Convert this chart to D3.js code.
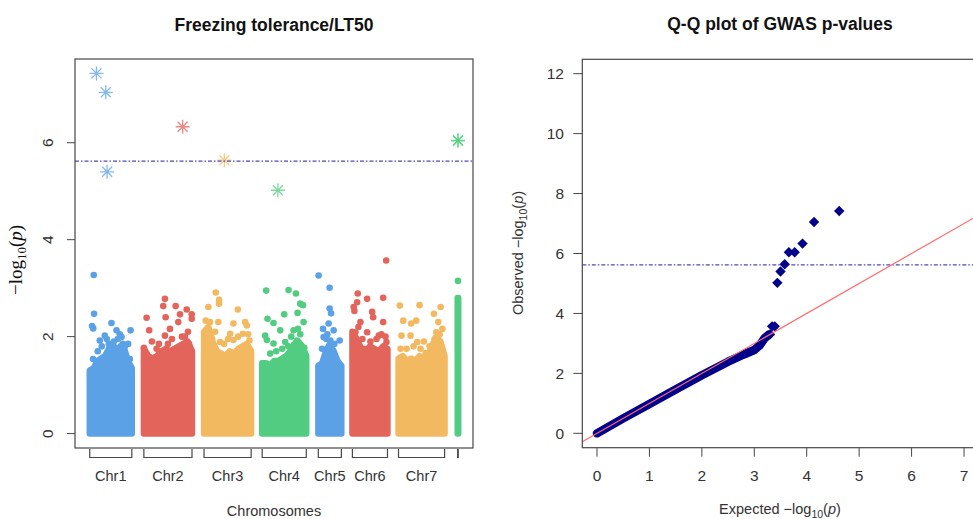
<!DOCTYPE html>
<html>
<head>
<meta charset="utf-8">
<script src="https://cdn.jsdelivr.net/npm/d3@7"></script>
<style>
  body { margin: 0; background: #fff; }
  svg { display: block; font-family: "Liberation Sans", Arial, sans-serif; }
</style>
</head>
<body>
<script>
'use strict'

// chromosome layout (positions in Mb-like units on the cumulative axis)
const chrNames = ['Chr1', 'Chr2', 'Chr3', 'Chr4', 'Chr5', 'Chr6', 'Chr7', '']
const chrStarts = [0, 54, 114, 172, 228, 262, 308, 367]
const chrLengths = [42, 48, 47, 44, 23, 35, 46, 0.6]
const chrColors = ['#5ba1e6', '#e2645a', '#f3b960', '#52cc80', '#5ba1e6', '#e2645a', '#f3b960', '#52cc80']

// top of the dense cloud of SNPs, sampled evenly along each chromosome
const bulkTops = [
  [1.3, 1.35, 1.5, 1.55, 1.6, 1.75, 1.85, 1.7, 1.8, 1.75, 1.5, 1.35],
  [1.75, 1.6, 1.55, 1.6, 1.7, 1.75, 1.7, 1.75, 1.8, 1.85, 1.9, 1.7],
  [2.1, 2.2, 1.9, 1.7, 1.65, 1.6, 1.7, 1.65, 1.75, 1.8, 1.85, 1.7],
  [1.45, 1.45, 1.4, 1.5, 1.5, 1.55, 1.6, 1.7, 1.85, 1.9, 1.8, 1.6],
  [1.4, 1.45, 1.7, 1.85, 1.7, 1.5, 1.4],
  [2.1, 1.95, 1.75, 1.7, 1.8, 1.75, 1.7, 1.8, 1.75],
  [1.55, 1.6, 1.5, 1.55, 1.5, 1.6, 1.55, 1.6, 1.8, 2.0, 1.9, 1.6],
  [2.8, 2.8]
]

// scattered SNPs above the cloud: [position within chromosome, -log10 p]
const scatterPoints = [
  [[4, 3.27], [4.3, 2.47], [2.3, 2.22], [3.5, 2.17], [21.7, 2.28], [40.7, 2.13], [26.7, 2.13], [15, 2.02],
    [31.7, 1.99], [10, 1.92], [38.3, 1.85], [21.7, 1.75], [3.3, 1.54], [40, 1.54],
    [12, 1.8], [17, 1.95], [19, 1.85], [24, 1.9], [28, 1.95], [33, 1.85], [35, 1.8], [8, 1.7], [30, 2.05]],
  [[21, 2.78], [19.3, 2.63], [31.7, 2.63], [21.7, 2.4], [36, 2.46], [42.7, 2.56], [47.7, 2.46], [47.7, 2.37],
    [2.7, 2.39], [26, 2.16], [5.3, 2.13], [21, 2.02], [34.3, 2.3], [41, 2.0], [0, 1.77], [12.7, 1.75], [45, 1.85],
    [8, 1.9], [15, 1.85], [28, 1.95], [38, 2.0], [44, 2.1], [24, 1.85]],
  [[11.7, 2.91], [15, 2.76], [15, 2.68], [4.3, 2.61], [33.7, 2.56], [1.7, 2.33], [6, 2.3], [14.3, 2.3],
    [29.3, 2.27], [41, 2.3], [42.7, 2.23], [2.7, 2.06], [26, 2.06], [38.7, 2.06], [16, 1.89], [45.3, 1.92], [29.3, 1.93],
    [8, 1.95], [20, 1.85], [24, 1.95], [34, 2.0], [44, 2.05], [11, 2.1]],
  [[4, 2.95], [26.3, 2.96], [33.7, 2.89], [38, 2.68], [40.7, 2.65], [35.3, 2.49], [22, 2.46], [5.3, 2.37],
    [11.3, 2.28], [41.3, 2.3], [31.3, 2.13], [35.7, 2.16], [18, 2.13], [3, 2.02], [4.7, 1.93], [23, 1.89],
    [34.7, 1.92], [42, 1.77], [11.3, 1.86], [14, 1.7], [20, 1.75], [26, 1.8], [29, 2.0], [38, 2.05], [8, 1.65]],
  [[0.3, 3.26], [11.3, 3.01], [11.3, 2.58], [12.7, 2.48], [10.3, 2.27], [4.7, 2.16], [15.3, 2.13], [21.3, 1.92],
    [5.3, 1.99], [12, 1.92], [3.7, 1.75], [13.7, 1.69], [8, 1.95], [16, 1.85], [9, 2.05]],
  [[33.7, 3.57], [5.3, 2.89], [14.7, 2.78], [30.7, 2.8], [4.7, 2.71], [1.3, 2.61], [19.7, 2.51], [20.7, 2.4],
    [2, 2.53], [8, 2.3], [30.7, 2.3], [3, 2.09], [14.7, 2.09], [26.3, 2.02], [34, 1.89], [11.3, 1.75], [23, 1.69],
    [10, 1.95], [18, 1.9], [24, 1.95], [29, 2.05], [33, 2.0], [6, 2.2]],
  [[1.3, 2.64], [21, 2.65], [42, 2.61], [4.7, 2.33], [17.7, 2.33], [12.7, 2.27], [35.3, 2.47], [39.7, 2.3],
    [37.7, 2.09], [3, 2.02], [12, 2.02], [18.7, 1.89], [25.3, 1.9], [2, 1.75], [27, 1.66], [43.7, 2.16],
    [8, 1.75], [15, 1.8], [22, 1.75], [31, 1.8], [36, 1.95], [41, 2.05]],
  [[0.3, 3.15]]
]

// significant SNPs (asterisks): [chromosome index, position, -log10 p]
const sigPoints = [[0, 6.7, 7.43], [0, 16, 7.04], [0, 17.3, 5.4], [1, 38.7, 6.33], [2, 20.3, 5.64],
  [3, 15.7, 5.02], [7, 0.3, 6.04], [7, 0.3, 6.05]]

const threshold = 5.62
const manhattanTicks = [0, 2, 4, 6]

// Q-Q plot: dense band of the bulk of p-values, then the individual tail
const qqBandExpected = [0, 0.5, 1.0, 1.5, 2.0, 2.5, 2.8, 3.0, 3.1, 3.2, 3.28]
const qqBandObserved = [0, 0.5, 0.98, 1.46, 1.94, 2.39, 2.63, 2.78, 2.93, 3.18, 3.3]
const qqTailExpected = [4.62, 4.14, 3.92, 3.77, 3.66, 3.58, 3.5, 3.44, 3.39, 3.34, 3.3, 3.26]
const qqTailObserved = [7.42, 7.05, 6.33, 6.04, 6.04, 5.64, 5.4, 5.02, 3.57, 3.57, 3.3, 3.26]
const qqXTicks = [0, 1, 2, 3, 4, 5, 6, 7]
const qqYTicks = [0, 2, 4, 6, 8, 10, 12]

const width = 973
const height = 519
const axisColor = '#474747'
const labelColor = '#333'

const svg = d3.select('body').append('svg')
  .attr('width', width)
  .attr('height', height)

// ---------- Manhattan plot ----------
const mBox = { left: 75, right: 473, top: 59, bottom: 448 }
const xEnd = chrStarts[7] + chrLengths[7]
const xm = d3.scaleLinear()
  .domain([-0.04 * xEnd, xEnd * 1.04])
  .range([mBox.left, mBox.right])
const ym = d3.scaleLinear()
  .domain([-0.04 * 7.43, 7.43 * 1.04])
  .range([mBox.bottom, mBox.top])

const mPlot = svg.append('g')

chrNames.forEach(function (name, i) {
  const start = chrStarts[i]
  const len = chrLengths[i]
  const tops = bulkTops[i]
  const area = d3.area()
    .x(function (d, k) { return xm(start + len * k / (tops.length - 1)) })
    .y0(ym(0))
    .y1(function (d) { return ym(d) })

  mPlot.append('path')
    .attr('d', area(tops))
    .attr('fill', chrColors[i])
    .attr('stroke', chrColors[i])
    .attr('stroke-width', 6.4)
    .attr('stroke-linejoin', 'round')

  mPlot.append('g').selectAll('circle')
    .data(scatterPoints[i])
    .enter()
    .append('circle')
    .attr('cx', function (d) { return xm(start + d[0]) })
    .attr('cy', function (d) { return ym(d[1]) })
    .attr('r', 3.3)
    .attr('fill', chrColors[i])
})

mPlot.append('g').selectAll('path')
  .data(sigPoints)
  .enter()
  .append('path')
  .attr('transform', function (d) {
    return 'translate(' + xm(chrStarts[d[0]] + d[1]) + ',' + ym(d[2]) + ')'
  })
  .attr('d', 'M-7,0H7M0,-7V7M-5,-5L5,5M-5,5L5,-5')
  .attr('stroke', function (d) { return chrColors[d[0]] })
  .attr('stroke-opacity', 0.75)
  .attr('stroke-width', 1.3)
  .attr('fill', 'none')

mPlot.append('line')
  .attr('x1', mBox.left).attr('x2', mBox.right)
  .attr('y1', ym(threshold)).attr('y2', ym(threshold))
  .attr('stroke', '#4b4bb5')
  .attr('stroke-width', 1.2)
  .attr('stroke-dasharray', '4,2,1.5,2')

svg.append('rect')
  .attr('x', mBox.left).attr('y', mBox.top)
  .attr('width', mBox.right - mBox.left).attr('height', mBox.bottom - mBox.top)
  .attr('fill', 'none').attr('stroke', axisColor).attr('stroke-width', 1.2)

const mYAxis = svg.append('g')
mYAxis.selectAll('line')
  .data(manhattanTicks)
  .enter()
  .append('line')
  .attr('x1', mBox.left - 8).attr('x2', mBox.left)
  .attr('y1', function (d) { return ym(d) }).attr('y2', function (d) { return ym(d) })
  .attr('stroke', axisColor)
mYAxis.selectAll('text')
  .data(manhattanTicks)
  .enter()
  .append('text')
  .attr('transform', function (d) { return 'translate(53,' + ym(d) + ') rotate(-90)' })
  .attr('text-anchor', 'middle')
  .attr('font-size', 15.5)
  .attr('fill', labelColor)
  .text(function (d) { return d })

// chromosome brackets and names
const brackets = svg.append('g')
chrNames.forEach(function (name, i) {
  const x0 = xm(chrStarts[i])
  const x1 = xm(chrStarts[i] + chrLengths[i])
  brackets.append('path')
    .attr('d', 'M' + x0 + ',449V457.5H' + x1 + 'V449')
    .attr('fill', 'none')
    .attr('stroke', axisColor)
    .attr('stroke-width', 1.2)
  if (name) {
    brackets.append('text')
      .attr('x', (x0 + x1) / 2)
      .attr('y', 481)
      .attr('text-anchor', 'middle')
      .attr('font-size', 14.5)
      .attr('fill', labelColor)
      .text(name)
  }
})

svg.append('text')
  .attr('x', (mBox.left + mBox.right) / 2).attr('y', 516)
  .attr('text-anchor', 'middle')
  .attr('font-size', 14.5)
  .attr('fill', labelColor)
  .text('Chromosomes')

svg.append('text')
  .attr('x', (mBox.left + mBox.right) / 2).attr('y', 30.5)
  .attr('text-anchor', 'middle')
  .attr('font-size', 17.5)
  .attr('font-weight', 'bold')
  .attr('fill', '#111')
  .text('Freezing tolerance/LT50')

const mYLabel = svg.append('text')
  .attr('transform', 'translate(22,260) rotate(-90)')
  .attr('text-anchor', 'middle')
  .attr('font-family', '"Liberation Serif", "DejaVu Serif", serif')
  .attr('font-size', 19)
  .attr('fill', '#111')
mYLabel.append('tspan').text('\u2212log')
mYLabel.append('tspan').attr('dy', 4).attr('font-size', 13).text('10')
mYLabel.append('tspan').attr('dy', -4).text('(')
mYLabel.append('tspan').attr('font-style', 'italic').text('p')
mYLabel.append('tspan').text(')')

// ---------- Q-Q plot ----------
const qBox = { left: 582.3, right: 978.7, top: 59.3, bottom: 447.7 }
const xq = d3.scaleLinear().domain([-0.28, 7.28]).range([qBox.left, qBox.right])
const yq = d3.scaleLinear().domain([-0.48, 12.48]).range([qBox.bottom, qBox.top])

svg.append('clipPath').attr('id', 'qclip')
  .append('rect')
  .attr('x', qBox.left).attr('y', qBox.top)
  .attr('width', qBox.right - qBox.left).attr('height', qBox.bottom - qBox.top)

const qPlot = svg.append('g').attr('clip-path', 'url(#qclip)')

qPlot.append('line')
  .attr('x1', qBox.left).attr('x2', qBox.right)
  .attr('y1', yq(threshold)).attr('y2', yq(threshold))
  .attr('stroke', '#4b4bb5')
  .attr('stroke-width', 1.2)
  .attr('stroke-dasharray', '4,2,1.5,2')

const bandLine = d3.line()
  .x(function (d) { return xq(d[0]) })
  .y(function (d) { return yq(d[1]) })

qPlot.append('path')
  .attr('d', bandLine(d3.zip(qqBandExpected, qqBandObserved)))
  .attr('fill', 'none')
  .attr('stroke', '#00008b')
  .attr('stroke-width', 8.5)
  .attr('stroke-linecap', 'round')
  .attr('stroke-linejoin', 'round')

qPlot.append('g').selectAll('path')
  .data(d3.zip(qqTailExpected, qqTailObserved))
  .enter()
  .append('path')
  .attr('transform', function (d) { return 'translate(' + xq(d[0]) + ',' + yq(d[1]) + ')' })
  .attr('d', 'M0,-5.2L5.2,0L0,5.2L-5.2,0Z')
  .attr('fill', '#00008b')

qPlot.append('line')
  .attr('x1', xq(-0.28)).attr('y1', yq(-0.28))
  .attr('x2', xq(7.28)).attr('y2', yq(7.28))
  .attr('stroke', '#ff6b6b')
  .attr('stroke-width', 1.2)

svg.append('rect')
  .attr('x', qBox.left).attr('y', qBox.top)
  .attr('width', qBox.right - qBox.left).attr('height', qBox.bottom - qBox.top)
  .attr('fill', 'none').attr('stroke', axisColor).attr('stroke-width', 1.2)

const qXAxis = svg.append('g')
qXAxis.selectAll('line')
  .data(qqXTicks)
  .enter()
  .append('line')
  .attr('x1', function (d) { return xq(d) }).attr('x2', function (d) { return xq(d) })
  .attr('y1', qBox.bottom).attr('y2', qBox.bottom + 9)
  .attr('stroke', axisColor)
qXAxis.selectAll('text')
  .data(qqXTicks)
  .enter()
  .append('text')
  .attr('x', function (d) { return xq(d) })
  .attr('y', 481)
  .attr('text-anchor', 'middle')
  .attr('font-size', 15.5)
  .attr('fill', labelColor)
  .text(function (d) { return d })

const qYAxis = svg.append('g')
qYAxis.selectAll('line')
  .data(qqYTicks)
  .enter()
  .append('line')
  .attr('x1', qBox.left - 9).attr('x2', qBox.left)
  .attr('y1', function (d) { return yq(d) }).attr('y2', function (d) { return yq(d) })
  .attr('stroke', axisColor)
qYAxis.selectAll('text')
  .data(qqYTicks)
  .enter()
  .append('text')
  .attr('x', 564)
  .attr('y', function (d) { return yq(d) })
  .attr('dy', '0.36em')
  .attr('text-anchor', 'end')
  .attr('font-size', 15.5)
  .attr('fill', labelColor)
  .text(function (d) { return d })

svg.append('text')
  .attr('x', 780).attr('y', 30)
  .attr('text-anchor', 'middle')
  .attr('font-size', 17.5)
  .attr('font-weight', 'bold')
  .attr('fill', '#111')
  .text('Q-Q plot of GWAS p-values')

function logLabel (sel, prefix) {
  sel.append('tspan').text(prefix + '  \u2212log')
  sel.append('tspan').attr('dy', 4).attr('font-size', 10.5).text('10')
  sel.append('tspan').attr('dy', -4).text('(')
  sel.append('tspan').attr('font-style', 'italic').text('p')
  sel.append('tspan').text(')')
}

const qXLabel = svg.append('text')
  .attr('x', 780).attr('y', 514)
  .attr('text-anchor', 'middle')
  .attr('font-size', 14.5)
  .attr('fill', labelColor)
logLabel(qXLabel, 'Expected')

const qYLabel = svg.append('text')
  .attr('transform', 'translate(523,253) rotate(-90)')
  .attr('text-anchor', 'middle')
  .attr('font-size', 14.5)
  .attr('fill', labelColor)
logLabel(qYLabel, 'Observed')
</script>
</body>
</html>
